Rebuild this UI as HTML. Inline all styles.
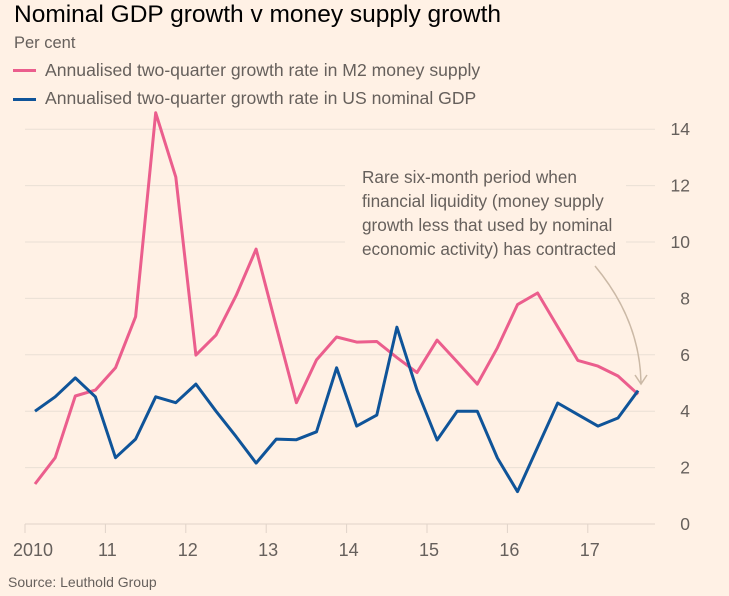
<!DOCTYPE html>
<html><head><meta charset="utf-8"><style>
body{margin:0;background:#fff1e5;font-family:"Liberation Sans",sans-serif;}
#wrap{position:relative;width:729px;height:596px;overflow:hidden;background:#fff1e5}
.t{position:absolute;white-space:nowrap}
</style></head><body>
<div id="wrap">
<div class="t" style="left:14px;top:1px;font-size:24.5px;color:#000">Nominal GDP growth v money supply growth</div>
<div class="t" style="left:14px;top:34px;font-size:16.5px;color:#66605c">Per cent</div>
<div>
<div style="position:absolute;left:13px;top:69px;width:23px;height:3px;background:#eb5e8d"></div>
<div class="t" style="left:45px;top:60px;font-size:17.6px;color:#66605c">Annualised two-quarter growth rate in M2 money supply</div></div>
<div>
<div style="position:absolute;left:13px;top:98px;width:23px;height:3px;background:#0f5499"></div>
<div class="t" style="left:45px;top:88px;font-size:17.6px;color:#66605c">Annualised two-quarter growth rate in US nominal GDP</div></div>
<svg id="chart" width="729" height="596" style="position:absolute;left:0;top:0"></svg>
<div class="t" style="left:8px;top:574px;font-size:14px;color:#66605c">Source: Leuthold Group</div>
</div>
<script>
const yTicks=[0,2,4,6,8,10,12,14];
const xYears=[2010,2011,2012,2013,2014,2015,2016,2017];
const xLabels=["2010","11","12","13","14","15","16","17"];
const m2=[1.42,2.35,4.54,4.75,5.54,7.35,14.58,12.3,5.99,6.7,8.1,9.75,7.0,4.3,5.82,6.63,6.45,6.47,5.9,5.37,6.52,5.75,4.96,6.25,7.78,8.19,6.99,5.8,5.6,5.25,4.6];
const gdp=[4.0,4.51,5.18,4.51,2.35,3.01,4.51,4.3,4.96,4.0,3.1,2.16,3.01,2.99,3.27,5.54,3.47,3.86,6.98,4.75,2.98,4.0,4.0,2.34,1.15,2.72,4.29,3.88,3.47,3.76,4.73];
const startYear=2010.125;
const svg=document.getElementById('chart');
const NS='http://www.w3.org/2000/svg';
function X(t){return 25+(t-2010)*80.4;}
function Y(v){return 524-v*28.2;}
function mk(tag,attrs){const e=document.createElementNS(NS,tag);for(const k in attrs)e.setAttribute(k,attrs[k]);svg.appendChild(e);return e;}
yTicks.forEach(v=>{
  if(v===0){const l=mk('line',{x1:25,x2:655,y1:Y(v),y2:Y(v),stroke:'#e0d4c9','stroke-width':1});}
  else if(v===10||v===12){
    const a=mk('line',{x1:25,x2:345,y1:Y(v),y2:Y(v),stroke:'#eadfd5','stroke-width':1});
    const b=mk('line',{x1:626,x2:655,y1:Y(v),y2:Y(v),stroke:'#eadfd5','stroke-width':1});
  } else {const g=mk('line',{x1:25,x2:655,y1:Y(v),y2:Y(v),stroke:'#eadfd5','stroke-width':1});}
  const t=mk('text',{x:690,y:Y(v)+6,'text-anchor':'end','font-size':17.5,fill:'#66605c','font-family':'Liberation Sans, sans-serif'});
  t.textContent=v;
  
  
});
xYears.forEach((yr,i)=>{
  const tk=mk('line',{x1:X(yr),x2:X(yr),y1:524,y2:533,stroke:'#e0d4c9','stroke-width':1});
  
  
  const t=mk('text',{x:X(yr)+(i===0?8:2),y:556,'text-anchor':'middle','font-size':18,fill:'#66605c','font-family':'Liberation Sans, sans-serif'});
  t.textContent=xLabels[i];
  
  
});
function line(arr,color,name){
  const d=arr.map((v,k)=>(k?'L':'M')+X(startYear+k*0.25).toFixed(1)+' '+Y(v).toFixed(1)).join(' ');
  const p=mk('path',{d:d,fill:'none',stroke:color,'stroke-width':3,'stroke-linejoin':'round'});
  
  
}
line(m2,'#eb5e8d','m2-series-line');
line(gdp,'#0f5499','gdp-series-line');
const ann=mk('text',{x:362,y:183,'font-size':17.2,fill:'#66605c','font-family':'Liberation Sans, sans-serif'});


["Rare six-month period when","financial liquidity (money supply","growth less that used by nominal","economic activity) has contracted"].forEach((s,i)=>{const ts=document.createElementNS(NS,'tspan');ts.setAttribute('x',362);ts.setAttribute('dy',i?24:0);ts.textContent=s;ann.appendChild(ts);});
const arr=mk('path',{d:'M595 266 Q640 320 641 383 M635 375 L641 384 L647 375',fill:'none',stroke:'#cbb9a6','stroke-width':1.5});


</script>
</body></html>
